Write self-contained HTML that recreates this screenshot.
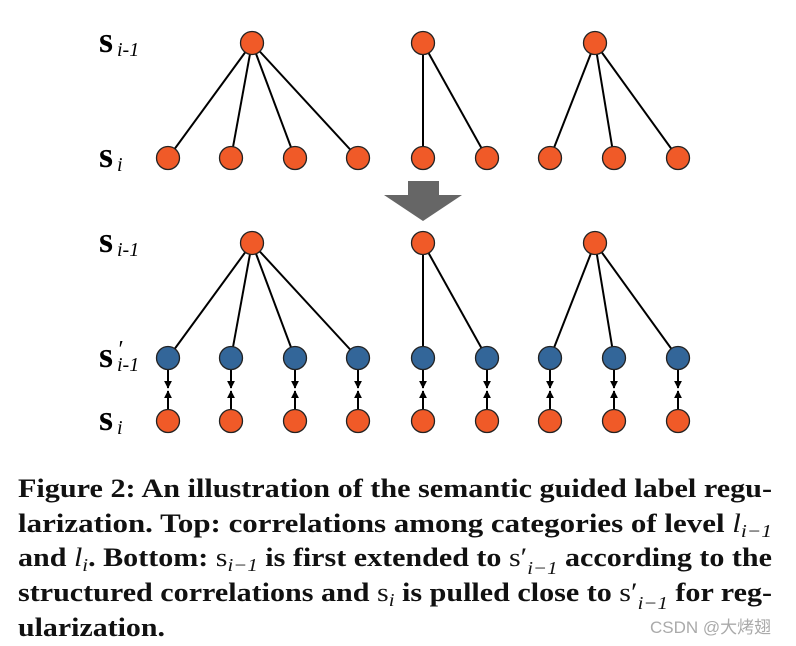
<!DOCTYPE html>
<html><head><meta charset="utf-8"><style>
html,body{margin:0;padding:0;background:#fff;}
svg{display:block;}
.cap{font-family:"Liberation Serif",serif;font-weight:bold;font-size:26px;fill:#111;}
.lab{font-family:"Liberation Serif",serif;font-weight:bold;font-size:36px;fill:#000;}
.sub{font-family:"Liberation Serif",serif;font-style:italic;font-size:20px;fill:#000;}
</style></head><body>
<svg width="796" height="646" viewBox="0 0 796 646" xmlns="http://www.w3.org/2000/svg">
<defs>
<marker id="ah" viewBox="0 0 10 10" refX="9" refY="5" markerWidth="4" markerHeight="4" orient="auto"><path d="M0,0 L10,5 L0,10 z" fill="#000"/></marker>
</defs>
<g stroke="#000" stroke-width="2">
<line x1="252" y1="43" x2="168" y2="158"/><line x1="252" y1="43" x2="231" y2="158"/>
<line x1="252" y1="43" x2="295" y2="158"/><line x1="252" y1="43" x2="358" y2="158"/>
<line x1="423" y1="43" x2="423" y2="158"/><line x1="423" y1="43" x2="487" y2="158"/>
<line x1="595" y1="43" x2="550" y2="158"/><line x1="595" y1="43" x2="614" y2="158"/><line x1="595" y1="43" x2="678" y2="158"/>
<line x1="252" y1="243" x2="168" y2="358"/><line x1="252" y1="243" x2="231" y2="358"/>
<line x1="252" y1="243" x2="295" y2="358"/><line x1="252" y1="243" x2="358" y2="358"/>
<line x1="423" y1="243" x2="423" y2="358"/><line x1="423" y1="243" x2="487" y2="358"/>
<line x1="595" y1="243" x2="550" y2="358"/><line x1="595" y1="243" x2="614" y2="358"/><line x1="595" y1="243" x2="678" y2="358"/>
</g>
<g stroke="#000" stroke-width="2" marker-end="url(#ah)">
<line x1="168" y1="370" x2="168" y2="388"/><line x1="168" y1="409" x2="168" y2="391"/>
<line x1="231" y1="370" x2="231" y2="388"/><line x1="231" y1="409" x2="231" y2="391"/>
<line x1="295" y1="370" x2="295" y2="388"/><line x1="295" y1="409" x2="295" y2="391"/>
<line x1="358" y1="370" x2="358" y2="388"/><line x1="358" y1="409" x2="358" y2="391"/>
<line x1="423" y1="370" x2="423" y2="388"/><line x1="423" y1="409" x2="423" y2="391"/>
<line x1="487" y1="370" x2="487" y2="388"/><line x1="487" y1="409" x2="487" y2="391"/>
<line x1="550" y1="370" x2="550" y2="388"/><line x1="550" y1="409" x2="550" y2="391"/>
<line x1="614" y1="370" x2="614" y2="388"/><line x1="614" y1="409" x2="614" y2="391"/>
<line x1="678" y1="370" x2="678" y2="388"/><line x1="678" y1="409" x2="678" y2="391"/>
</g>
<g fill="#f05a28" stroke="#222" stroke-width="1.3">
<circle cx="252" cy="43" r="11.5"/><circle cx="423" cy="43" r="11.5"/><circle cx="595" cy="43" r="11.5"/>
<circle cx="168" cy="158" r="11.5"/><circle cx="231" cy="158" r="11.5"/><circle cx="295" cy="158" r="11.5"/><circle cx="358" cy="158" r="11.5"/><circle cx="423" cy="158" r="11.5"/><circle cx="487" cy="158" r="11.5"/><circle cx="550" cy="158" r="11.5"/><circle cx="614" cy="158" r="11.5"/><circle cx="678" cy="158" r="11.5"/>
<circle cx="252" cy="243" r="11.5"/><circle cx="423" cy="243" r="11.5"/><circle cx="595" cy="243" r="11.5"/>
<circle cx="168" cy="421" r="11.5"/><circle cx="231" cy="421" r="11.5"/><circle cx="295" cy="421" r="11.5"/><circle cx="358" cy="421" r="11.5"/><circle cx="423" cy="421" r="11.5"/><circle cx="487" cy="421" r="11.5"/><circle cx="550" cy="421" r="11.5"/><circle cx="614" cy="421" r="11.5"/><circle cx="678" cy="421" r="11.5"/>
</g>
<g fill="#336699" stroke="#222" stroke-width="1.3">
<circle cx="168" cy="358" r="11.5"/><circle cx="231" cy="358" r="11.5"/><circle cx="295" cy="358" r="11.5"/><circle cx="358" cy="358" r="11.5"/><circle cx="423" cy="358" r="11.5"/><circle cx="487" cy="358" r="11.5"/><circle cx="550" cy="358" r="11.5"/><circle cx="614" cy="358" r="11.5"/><circle cx="678" cy="358" r="11.5"/>
</g>
<path d="M408,181 H439 V195 H462 L423,221 L384,195 H408 Z" fill="#666"/>
<text class="lab" x="99" y="52">s</text><text class="sub" x="117" y="56">i-1</text>
<text class="lab" x="99" y="167">s</text><text class="sub" x="117" y="171">i</text>
<text class="lab" x="99" y="252">s</text><text class="sub" x="117" y="256">i-1</text>
<text class="lab" x="99" y="367">s</text><text class="sub" x="117" y="371">i-1</text><text class="sub" x="117" y="357" style="font-size:24px">′</text>
<text class="lab" x="99" y="430">s</text><text class="sub" x="117" y="434">i</text>
<text class="cap" x="18" y="497" textLength="754" lengthAdjust="spacingAndGlyphs">Figure 2: An illustration of the semantic guided label regu-</text>
<text class="cap" x="18" y="532" textLength="754" lengthAdjust="spacingAndGlyphs">larization. Top: correlations among categories of level <tspan font-style="italic" font-weight="normal">l</tspan><tspan font-style="italic" font-weight="normal" font-size="18" dy="5">i−1</tspan></text>
<text class="cap" x="18" y="566" textLength="754" lengthAdjust="spacingAndGlyphs">and <tspan font-style="italic" font-weight="normal">l</tspan><tspan font-style="italic" font-weight="normal" font-size="18" dy="5">i</tspan><tspan dy="-5">. Bottom: </tspan><tspan font-weight="normal">s</tspan><tspan font-style="italic" font-weight="normal" font-size="18" dy="5">i−1</tspan><tspan dy="-5"> is first extended to </tspan><tspan font-weight="normal">s′</tspan><tspan font-style="italic" font-weight="normal" font-size="18" dy="8">i−1</tspan><tspan dy="-8"> according to the</tspan></text>
<text class="cap" x="18" y="601" textLength="754" lengthAdjust="spacingAndGlyphs">structured correlations and <tspan font-weight="normal">s</tspan><tspan font-style="italic" font-weight="normal" font-size="18" dy="5">i</tspan><tspan dy="-5"> is pulled close to </tspan><tspan font-weight="normal">s′</tspan><tspan font-style="italic" font-weight="normal" font-size="18" dy="8">i−1</tspan><tspan dy="-8"> for reg-</tspan></text>
<text class="cap" x="18" y="636" textLength="147" lengthAdjust="spacingAndGlyphs">ularization.</text>
<text x="650" y="633" style="font-family:'Liberation Sans','Noto Sans CJK SC',sans-serif;font-size:17px;fill:#aaa;">CSDN @大烤翅</text>
</svg>
</body></html>
